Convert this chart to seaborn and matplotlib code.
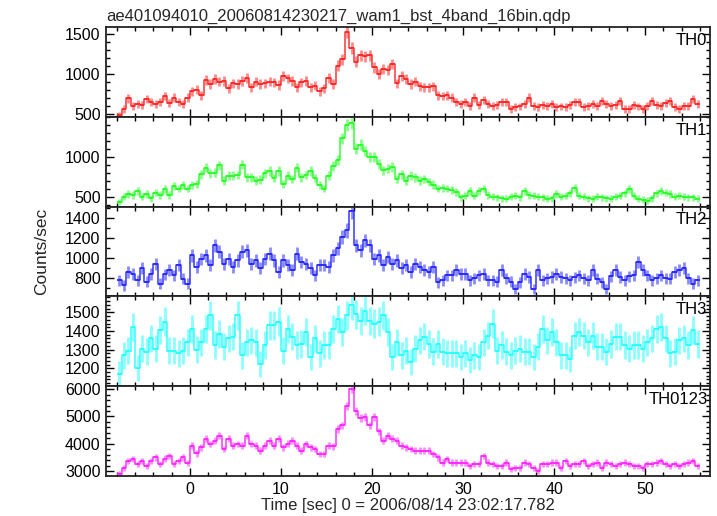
import numpy as np
import matplotlib
matplotlib.use("Agg")
import matplotlib.pyplot as plt
from matplotlib.ticker import FixedLocator, MultipleLocator
import seaborn as sns

# ---------------- data (0.5 s bins starting at t = -7.75 s) ----------------
t_start = -7.75
bin_width = 0.5
frame_time = 0.25  # exposure used for Poisson error bars

th0 = [480, 560, 690, 600, 620, 610, 680, 640, 620, 650, 720, 630, 700, 640, 620, 700,
       780, 800, 730, 920, 870, 930, 900, 910, 820, 880, 870, 910, 950, 830, 900, 870,
       880, 900, 890, 860, 970, 940, 910, 830, 890, 910, 830, 850, 780, 820, 950, 870,
       1100, 1180, 1520, 1320, 1150, 1230, 1220, 1230, 1080, 1000, 1060, 1050, 1120, 880, 970, 930,
       870, 900, 840, 830, 830, 840, 730, 720, 730, 700, 650, 620, 640, 600, 700, 610,
       670, 620, 600, 610, 640, 650, 560, 580, 590, 620, 700, 600, 580, 610, 600, 620,
       580, 590, 580, 610, 650, 640, 580, 600, 620, 600, 660, 620, 600, 610, 660, 560,
       560, 610, 590, 560, 600, 660, 610, 600, 630, 660, 580, 560, 600, 600, 680, 620]

th1 = [430, 500, 530, 520, 570, 500, 530, 480, 550, 520, 590, 520, 630, 600, 640, 600,
       640, 660, 780, 860, 790, 800, 890, 700, 760, 760, 770, 900, 740, 740, 700, 710,
       790, 820, 730, 820, 660, 760, 720, 860, 740, 770, 820, 730, 640, 600, 760, 880,
       960, 1230, 1390, 1420, 1100, 1150, 1070, 1000, 990, 910, 830, 850, 870, 720, 780, 700,
       760, 740, 700, 720, 680, 650, 600, 610, 600, 580, 560, 490, 510, 570, 510, 570,
       600, 520, 500, 490, 480, 470, 500, 510, 490, 570, 520, 510, 500, 490, 470, 480,
       530, 500, 510, 540, 610, 510, 500, 480, 470, 500, 490, 480, 470, 500, 510, 540,
       590, 510, 470, 460, 450, 480, 540, 570, 550, 530, 500, 510, 500, 490, 490, 470]

th2 = [780, 730, 865, 845, 780, 900, 765, 845, 945, 745, 840, 880, 830, 930, 795, 745,
       1030, 915, 995, 1030, 930, 1130, 1065, 945, 995, 915, 980, 1065, 1080, 945, 980, 900,
       995, 1045, 980, 865, 980, 930, 880, 1045, 965, 945, 900, 830, 930, 930, 915, 1030,
       1100, 1215, 1280, 1470, 1130, 1080, 1180, 1130, 995, 1030, 930, 1015, 945, 980, 900, 930,
       865, 945, 915, 880, 865, 915, 760, 780, 830, 830, 880, 845, 845, 780, 800, 830,
       845, 780, 780, 765, 880, 800, 765, 695, 760, 845, 815, 695, 880, 780, 800, 815,
       845, 815, 800, 780, 810, 830, 800, 780, 880, 795, 760, 695, 820, 880, 815, 780,
       820, 830, 965, 880, 830, 780, 800, 830, 800, 795, 865, 880, 900, 800, 745, 780]

th3 = [1170, 1270, 1295, 1420, 1200, 1305, 1290, 1360, 1305, 1405, 1450, 1295, 1295, 1280, 1295, 1340,
       1410, 1300, 1340, 1410, 1485, 1325, 1385, 1315, 1360, 1370, 1485, 1270, 1340, 1350, 1340, 1225,
       1325, 1430, 1430, 1450, 1295, 1410, 1370, 1325, 1330, 1395, 1260, 1360, 1280, 1325, 1325, 1410,
       1465, 1395, 1485, 1540, 1490, 1455, 1510, 1455, 1440, 1450, 1485, 1395, 1260, 1340, 1270, 1295,
       1235, 1305, 1350, 1370, 1330, 1290, 1330, 1290, 1280, 1280, 1280, 1260, 1280, 1245, 1270, 1260,
       1340, 1375, 1440, 1295, 1325, 1290, 1270, 1295, 1305, 1290, 1290, 1260, 1315, 1410, 1350, 1395,
       1340, 1270, 1270, 1250, 1375, 1395, 1375, 1340, 1375, 1315, 1315, 1290, 1330, 1370, 1370, 1325,
       1305, 1325, 1325, 1305, 1340, 1360, 1410, 1420, 1360, 1280, 1290, 1350, 1360, 1325, 1405, 1330]

th0123 = [2880, 3125, 3370, 3430, 3250, 3370, 3185, 3370, 3495, 3250, 3450, 3555, 3250, 3370, 3495, 3280,
          3925, 3650, 3865, 4175, 3990, 4110, 4300, 3805, 4175, 3925, 3990, 3925, 4300, 3990, 3925, 3740,
          3925, 4110, 3925, 4175, 3865, 4000, 4110, 3925, 3740, 3990, 3865, 3805, 3620, 3620, 3925, 3900,
          4545, 4670, 5400, 6000, 5200, 4950, 4975, 4670, 4975, 4450, 4110, 4300, 4175, 4110, 3925, 3865,
          3805, 3740, 3740, 3740, 3740, 3620, 3495, 3310, 3430, 3310, 3310, 3310, 3310, 3185, 3250, 3250,
          3555, 3310, 3250, 3185, 3185, 3310, 3060, 3125, 3125, 3310, 3250, 3125, 3000, 3250, 3250, 3310,
          3310, 3125, 3370, 3185, 3250, 3250, 3370, 3185, 3250, 3310, 3125, 3310, 3250, 3185, 3250, 3310,
          3250, 3185, 3185, 3125, 3250, 3250, 3310, 3370, 3250, 3185, 3250, 3185, 3250, 3310, 3370, 3185]

panel_names = ["TH0", "TH1", "TH2", "TH3", "TH0123"]
panel_series = [th0, th1, th2, th3, th0123]
panel_colors = ["#ff2a2a", "#2aff2a", "#2a2aff", "#2affff", "#ff2aff"]
panel_ylims = [(462, 1587), (375, 1500), (620, 1520), (1104, 1586), (2815, 6110)]
panel_major = [[500, 1000, 1500], [500, 1000], [800, 1000, 1200, 1400],
               [1200, 1300, 1400, 1500], [3000, 4000, 5000, 6000]]
panel_minor = [100, 100, 100, 20, 200]

title = "ae401094010_20060814230217_wam1_bst_4band_16bin.qdp"
xlabel = "Time [sec] 0 = 2006/08/14 23:02:17.782"
ylabel = "Counts/sec"
xlim = (-9.2, 57.1)
xticks = [0, 10, 20, 30, 40, 50]

# ---------------- style ----------------
sns.set_style("ticks")
plt.rcParams["font.family"] = ["Liberation Sans", "DejaVu Sans"]
plt.rcParams["axes.linewidth"] = 1.3

fig = plt.figure(figsize=(7.17, 5.16), dpi=100)
gs = fig.add_gridspec(5, 1, left=0.148, right=0.990, top=0.948, bottom=0.0775, hspace=0)
axes = [fig.add_subplot(gs[i, 0]) for i in range(5)]

for i, ax in enumerate(axes):
    vals = np.asarray(panel_series[i], dtype=float)
    t = t_start + bin_width * np.arange(len(vals))
    err = np.sqrt(vals / frame_time)
    col = panel_colors[i]
    ax.errorbar(t, vals, yerr=err, fmt="none", ecolor=col, elinewidth=2.0,
                alpha=0.55, capsize=0, zorder=2)
    ax.errorbar(t, vals, xerr=bin_width / 2, fmt="none", ecolor=col, elinewidth=1.3,
                capsize=0, zorder=3)
    sns.lineplot(x=t, y=vals, ax=ax, color=col, linewidth=1.1, estimator=None,
                 drawstyle="steps-mid", alpha=0.95, zorder=3)
    ax.set_xlim(*xlim)
    ax.set_ylim(*panel_ylims[i])
    ax.yaxis.set_major_locator(FixedLocator(panel_major[i]))
    ax.yaxis.set_minor_locator(MultipleLocator(panel_minor[i]))
    ax.xaxis.set_major_locator(FixedLocator(xticks))
    ax.xaxis.set_minor_locator(MultipleLocator(2))
    ax.tick_params(which="both", direction="in", top=True, right=True,
                   labelsize=11.5, colors="black", width=1.0)
    ax.tick_params(which="major", length=6, pad=4)
    ax.tick_params(which="minor", length=3)
    ax.set_xlabel("")
    ax.set_ylabel("")
    if i < 4:
        ax.tick_params(labelbottom=False)
    for sp in ax.spines.values():
        sp.set_color("#222222")
        sp.set_visible(True)
    ax.text(0.996, 0.935, panel_names[i], transform=ax.transAxes, ha="right", va="top",
            fontsize=12, color="black")

axes[0].set_title(title, loc="left", fontsize=12, pad=4)
axes[-1].set_xlabel(xlabel, fontsize=12, labelpad=1)
fig.text(0.058, 0.512, ylabel, rotation=90, ha="center", va="center", fontsize=12.5)

fig.savefig("out.png", dpi=100)
